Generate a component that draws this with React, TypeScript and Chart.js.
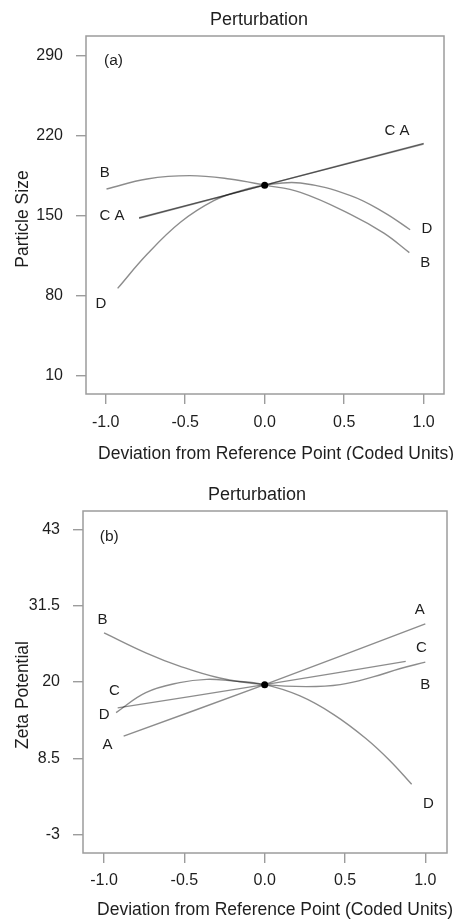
import React, { useEffect, useRef } from "react";
import { Chart, registerables } from "chart.js";

Chart.register(...registerables);

const FONT = "'Liberation Sans', Arial, Helvetica, sans-serif";
Chart.defaults.font.family = FONT;

// ---------- shared ----------
const xTickValues = [-1.0, -0.5, 0.0, 0.5, 1.0];
const titleText = "Perturbation";
const xTitleText = "Deviation from Reference Point (Coded Units)";

// ---------- panel (a): Particle Size ----------
const sizeYTicks = [10, 80, 150, 220, 290];
const sizeRef: [number, number][] = [[0, 177]];
const sizeA: [number, number][] = [[-0.79, 148.5], [0, 177], [1.0, 213]];
const sizeC: [number, number][] = [[-0.79, 148], [0, 177], [1.0, 213.5]];
const sizeB: [number, number][] = [
  [-0.995, 173.6], [-0.74, 182.4], [-0.47, 185.3], [-0.22, 182.4], [0, 177],
  [0.225, 170.7], [0.54, 151.5], [0.75, 135], [0.91, 118],
];
const sizeD: [number, number][] = [
  [-0.925, 86.7], [-0.74, 116.5], [-0.53, 144.5], [-0.32, 163.4], [-0.15, 172.1], [0, 177],
  [0.225, 178.9], [0.54, 167.8], [0.75, 153.2], [0.915, 138],
];
const sizeLabels: [string, number, number][] = [
  ["B", -1.006, 187.6], ["C A", -0.96, 150.3], ["D", -1.03, 73],
  ["C A", 0.833, 224.6], ["D", 1.02, 138.6], ["B", 1.01, 108.9],
];

// ---------- panel (b): Zeta Potential ----------
const zetaYTicks = [-3, 8.5, 20, 31.5, 43];
const zetaRef: [number, number][] = [[0, 19.6]];
const zetaA: [number, number][] = [[-0.878, 11.85], [0, 19.6], [1.0, 28.75]];
const zetaC: [number, number][] = [[-0.915, 16.1], [0, 19.6], [0.878, 23.1]];
const zetaB: [number, number][] = [
  [-1.0, 27.4], [-0.74, 24.4], [-0.53, 22.4], [-0.28, 20.6], [0, 19.6],
  [0.26, 19.3], [0.47, 19.6], [0.68, 20.8], [0.84, 22.0], [1.0, 23.0],
];
const zetaD: [number, number][] = [
  [-0.925, 15.4], [-0.74, 18.4], [-0.53, 19.9], [-0.36, 20.4], [-0.22, 20.2], [0, 19.6],
  [0.22, 17.9], [0.43, 15.1], [0.63, 11.5], [0.78, 8.15], [0.915, 4.6],
];
const zetaLabels: [string, number, number][] = [
  ["B", -1.01, 29.4], ["C", -0.936, 18.6], ["D", -1.0, 15.0], ["A", -0.978, 10.5],
  ["A", 0.966, 30.8], ["C", 0.976, 25.2], ["B", 1.0, 19.5], ["D", 1.02, 1.7],
];

type PanelCfg = {
  h: number;
  yTitle: string;
  panelLabel: string;
  panelLabelPos: [number, number];
  yTicks: number[];
  xMin: number; xMax: number; yMin: number; yMax: number;
  ref: [number, number][];
  series: [number, number][][];
  labels: [string, number, number][];
  pad: { top: number; right: number };
  yWidth: number;
  xHeight: number;
  titlePos: [number, number];
  xTitlePos: [number, number];
  yTitlePos: [number, number];
  xTickPad: number;
};

const TEXT = "#1e1e1e";
const AXIS = "#9c9c9c";

function makePlugin(cfg: PanelCfg) {
  return {
    id: "annot",
    beforeDatasetsDraw(chart: any) {
      const { ctx, chartArea } = chart;
      ctx.save();
      ctx.strokeStyle = AXIS;
      ctx.lineWidth = 1.5;
      ctx.strokeRect(chartArea.left, chartArea.top, chartArea.right - chartArea.left, chartArea.bottom - chartArea.top);
      ctx.restore();
    },
    afterDraw(chart: any) {
      const { ctx } = chart;
      const xs = chart.scales.x;
      const ys = chart.scales.y;
      ctx.save();
      ctx.fillStyle = TEXT;
      ctx.textAlign = "center";
      ctx.textBaseline = "middle";
      ctx.font = `18px ${FONT}`;
      ctx.fillText(titleText, cfg.titlePos[0], cfg.titlePos[1]);
      ctx.font = `17.5px ${FONT}`;
      ctx.fillText(xTitleText, cfg.xTitlePos[0], cfg.xTitlePos[1]);
      ctx.save();
      ctx.translate(cfg.yTitlePos[0], cfg.yTitlePos[1]);
      ctx.rotate(-Math.PI / 2);
      ctx.fillText(cfg.yTitle, 0, 0);
      ctx.restore();
      ctx.font = `15.5px ${FONT}`;
      ctx.textAlign = "left";
      ctx.fillText(cfg.panelLabel, xs.getPixelForValue(cfg.panelLabelPos[0]) - 8, ys.getPixelForValue(cfg.panelLabelPos[1]));
      ctx.textAlign = "center";
      ctx.font = `15px ${FONT}`;
      for (const [t, x, y] of cfg.labels) {
        ctx.fillText(t, xs.getPixelForValue(x), ys.getPixelForValue(y));
      }
      ctx.restore();
    },
  };
}

function Panel({ cfg }: { cfg: PanelCfg }) {
  const ref = useRef<HTMLCanvasElement | null>(null);
  useEffect(() => {
    if (!ref.current) return;
    const lineDs = cfg.series.map((s) => ({
      type: "line" as const,
      data: s.map(([x, y]) => ({ x, y })),
      borderColor: "rgba(0,0,0,0.45)",
      borderWidth: 1.4,
      pointRadius: 0,
      fill: false,
      tension: 0.4,
    }));
    const chart = new Chart(ref.current, {
      type: "scatter",
      data: {
        datasets: [
          {
            type: "scatter" as const,
            data: cfg.ref.map(([x, y]) => ({ x, y })),
            pointRadius: 3.5,
            pointBackgroundColor: "#000",
            pointBorderColor: "#000",
            borderWidth: 0,
          },
          ...lineDs,
        ] as any,
      },
      options: {
        responsive: false,
        animation: false,
        events: [],
        layout: { padding: { top: cfg.pad.top, right: cfg.pad.right, left: 0, bottom: 0 } },
        plugins: { legend: { display: false }, tooltip: { enabled: false }, title: { display: false } },
        scales: {
          x: {
            type: "linear",
            min: cfg.xMin,
            max: cfg.xMax,
            afterBuildTicks: (s: any) => { s.ticks = xTickValues.map((v) => ({ value: v })); },
            afterFit: (s: any) => { s.height = cfg.xHeight; },
            ticks: {
              autoSkip: false,
              maxRotation: 0,
              padding: cfg.xTickPad,
              color: TEXT,
              font: { size: 16, family: FONT },
              callback: (v: any) => Number(v).toFixed(1),
            },
            grid: { drawOnChartArea: false, drawTicks: true, tickLength: 10, color: AXIS, lineWidth: 1.4 },
            border: { display: false },
          },
          y: {
            type: "linear",
            min: cfg.yMin,
            max: cfg.yMax,
            afterBuildTicks: (s: any) => { s.ticks = cfg.yTicks.map((v) => ({ value: v })); },
            afterFit: (s: any) => { s.width = cfg.yWidth; },
            ticks: {
              autoSkip: false,
              padding: 13,
              color: TEXT,
              font: { size: 16, family: FONT },
              callback: (v: any) => String(v),
            },
            grid: { drawOnChartArea: false, drawTicks: true, tickLength: 10, color: AXIS, lineWidth: 1.4 },
            border: { display: false },
          },
        },
      },
      plugins: [makePlugin(cfg)],
    } as any);
    return () => chart.destroy();
  }, [cfg]);
  return (
    <canvas
      ref={ref}
      width={460}
      height={cfg.h}
      style={{ display: "block", width: 460, height: cfg.h }}
    />
  );
}

const cfgA: PanelCfg = {
  h: 460,
  yTitle: "Particle Size",
  panelLabel: "(a)",
  panelLabelPos: [-0.96, 285.9],
  yTicks: sizeYTicks,
  xMin: -1.124, xMax: 1.128, yMin: -5.75, yMax: 307.5,
  ref: sizeRef,
  series: [sizeA, sizeC, sizeB, sizeD],
  labels: sizeLabels,
  pad: { top: 36, right: 16 },
  yWidth: 86,
  xHeight: 66,
  titlePos: [259, 20],
  xTitlePos: [276, 454],
  yTitlePos: [23.5, 219],
  xTickPad: 9,
};

const cfgB: PanelCfg = {
  h: 459,
  yTitle: "Zeta Potential",
  panelLabel: "(b)",
  panelLabelPos: [-0.977, 41.9],
  yTicks: zetaYTicks,
  xMin: -1.131, xMax: 1.135, yMin: -5.75, yMax: 45.75,
  ref: zetaRef,
  series: [zetaA, zetaC, zetaB, zetaD],
  labels: zetaLabels,
  pad: { top: 51, right: 13 },
  yWidth: 83,
  xHeight: 66,
  titlePos: [257, 35],
  xTitlePos: [275, 450],
  yTitlePos: [23, 235],
  xTickPad: 8,
};

export default function App() {
  return (
    <div style={{ position: "absolute", left: 0, top: 0, width: 460, height: 919, background: "#fff" }}>
      <Panel cfg={cfgA} />
      <Panel cfg={cfgB} />
    </div>
  );
}
